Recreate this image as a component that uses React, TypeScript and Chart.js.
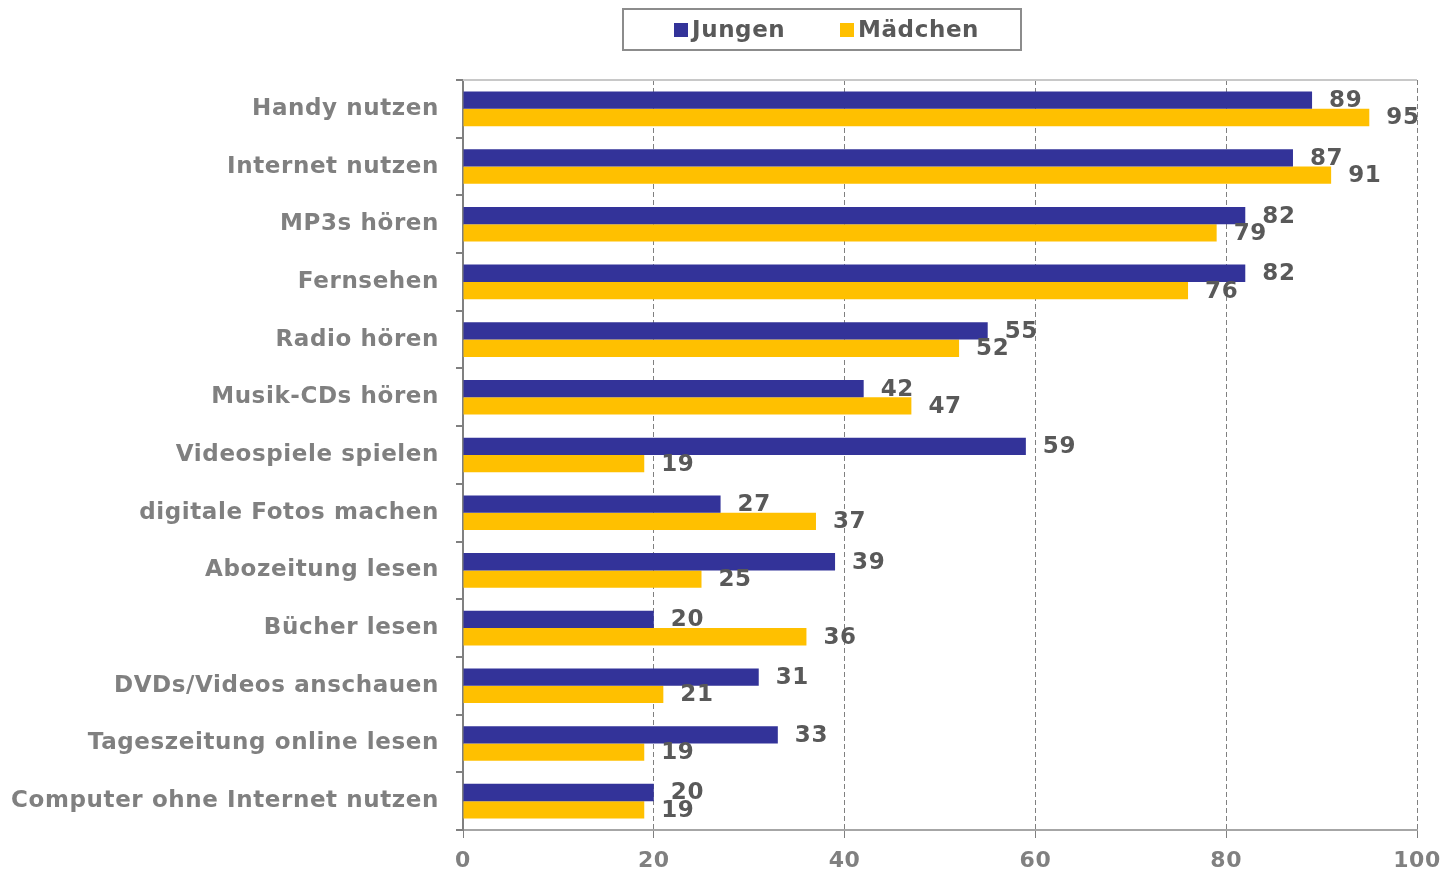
import React, { useEffect, useRef } from "react";
import { Chart, registerables } from "chart.js";

Chart.register(...registerables);

const categories = [
  "Handy nutzen",
  "Internet nutzen",
  "MP3s hören",
  "Fernsehen",
  "Radio hören",
  "Musik-CDs hören",
  "Videospiele spielen",
  "digitale Fotos machen",
  "Abozeitung lesen",
  "Bücher lesen",
  "DVDs/Videos anschauen",
  "Tageszeitung online lesen",
  "Computer ohne Internet nutzen",
];
const jungen = [89, 87, 82, 82, 55, 42, 59, 27, 39, 20, 31, 33, 20];
const maedchen = [95, 91, 79, 76, 52, 47, 19, 37, 25, 36, 21, 19, 19];
const seriesNames = ["Jungen", "Mädchen"];
const seriesColors = ["#333399", "#FFC000"];
const xTicks = [0, 20, 40, 60, 80, 100];

const FONT = "'DejaVu Sans', Verdana, sans-serif";

const spacingPlugin = {
  id: "letterSpacing",
  beforeInit(chart: any) {
    chart.ctx.letterSpacing = "0.6px";
  },
  beforeUpdate(chart: any) {
    chart.ctx.letterSpacing = "0.6px";
  },
  beforeDraw(chart: any) {
    chart.ctx.letterSpacing = "0.6px";
  },
};

const labelsPlugin = {
  id: "valueLabels",
  afterDatasetsDraw(chart: any) {
    const ctx = chart.ctx;
    ctx.save();
    ctx.font = `bold 23px ${FONT}`;
    ctx.fillStyle = "#595959";
    ctx.textAlign = "left";
    ctx.textBaseline = "middle";
    chart.data.datasets.forEach((ds: any, di: number) => {
      const meta = chart.getDatasetMeta(di);
      meta.data.forEach((el: any, i: number) => {
        ctx.fillText(String(ds.data[i]), el.x + 17, el.y + 1);
      });
    });
    ctx.restore();
  },
};

const framePlugin = {
  id: "frameAndLegend",
  beforeDatasetsDraw(chart: any) {
    const { ctx, chartArea } = chart;
    ctx.save();
    ctx.strokeStyle = "#c8c8c8";
    ctx.lineWidth = 2;
    ctx.beginPath();
    ctx.moveTo(chartArea.left, chartArea.top);
    ctx.lineTo(chartArea.right, chartArea.top);
    ctx.stroke();
    ctx.restore();
  },
  afterDraw(chart: any) {
    const ctx = chart.ctx;
    ctx.save();
    ctx.strokeStyle = "#8c8c8c";
    ctx.lineWidth = 2;
    ctx.strokeRect(623, 9, 398, 41);
    ctx.font = `bold 23px ${FONT}`;
    ctx.textBaseline = "middle";
    ctx.textAlign = "left";
    const items = [
      { x: 674, name: seriesNames[0], color: seriesColors[0] },
      { x: 840, name: seriesNames[1], color: seriesColors[1] },
    ];
    items.forEach((it) => {
      ctx.fillStyle = it.color;
      ctx.fillRect(it.x, 23, 14, 14);
      ctx.fillStyle = "#595959";
      ctx.fillText(it.name, it.x + 18, 31);
    });
    ctx.restore();
  },
};

export default function App() {
  const ref = useRef<HTMLCanvasElement | null>(null);
  useEffect(() => {
    if (!ref.current) return;
    const chart = new Chart(ref.current, {
      type: "bar",
      data: {
        labels: categories,
        datasets: [
          {
            label: seriesNames[0],
            data: jungen,
            backgroundColor: seriesColors[0],
            categoryPercentage: 0.6,
            barPercentage: 1.0,
          },
          {
            label: seriesNames[1],
            data: maedchen,
            backgroundColor: seriesColors[1],
            categoryPercentage: 0.6,
            barPercentage: 1.0,
          },
        ],
      },
      options: {
        indexAxis: "y",
        animation: false,
        responsive: false,
        maintainAspectRatio: false,
        layout: { padding: { top: 80, right: 28, left: 0, bottom: 0 } },
        plugins: {
          legend: { display: false },
          tooltip: { enabled: false },
        },
        scales: {
          x: {
            min: 0,
            max: 100,
            afterBuildTicks: (scale: any) => {
              scale.ticks = xTicks.map((v) => ({ value: v }));
            },
            afterFit: (scale: any) => {
              scale.height = 44;
              scale.paddingRight = 0;
              scale.paddingLeft = 0;
            },
            ticks: {
              color: "#808080",
              font: { family: FONT, size: 22, weight: "bold" },
              padding: 10,
              maxRotation: 0,
            },
            grid: {
              color: "#808080",
              lineWidth: 1,
              tickLength: 8,
              tickColor: "#808080",
              tickBorderDash: [],
            },
            border: {
              display: true,
              color: "#a6a6a6",
              width: 2,
              dash: [5, 3],
            },
          },
          y: {
            afterFit: (scale: any) => {
              scale.width = 463;
            },
            ticks: {
              color: "#808080",
              font: { family: FONT, size: 23, weight: "bold" },
              padding: 17,
              autoSkip: false,
            },
            grid: {
              drawOnChartArea: false,
              tickLength: 7,
              color: "#808080",
              lineWidth: 2,
            },
            border: { display: true, color: "#808080", width: 2 },
          },
        },
      },
      plugins: [spacingPlugin, labelsPlugin, framePlugin],
    } as any);
    return () => chart.destroy();
  }, []);
  return (
    <div style={{ position: "fixed", left: 0, top: 0, width: 1445, height: 874, background: "#fff" }}>
      <canvas ref={ref} width={1445} height={874} style={{ width: 1445, height: 874, display: "block" }} />
    </div>
  );
}
